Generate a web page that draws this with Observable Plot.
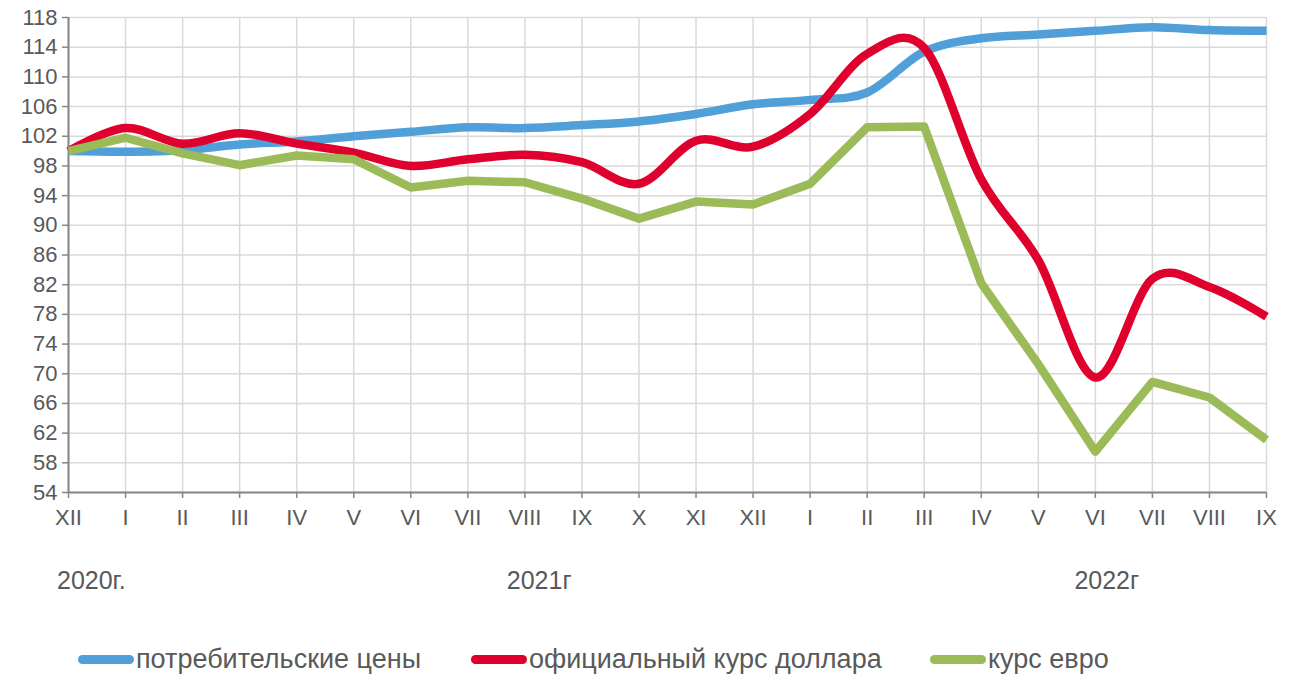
<!DOCTYPE html>
<html>
<head>
<meta charset="utf-8">
<script src="https://cdn.jsdelivr.net/npm/d3@7"></script>
<script src="https://cdn.jsdelivr.net/npm/@observablehq/plot@0.6"></script>
<style>
  body { margin: 0; background: #fff; font-family: "Liberation Sans", Arial, sans-serif; }
  #legend { position: relative; height: 54px; width: 1295px; color: #595959; font-size: 27px; }
  .item { position: absolute; top: 0; display: flex; align-items: center; height: 78px; }
  .sw { width: 56px; height: 9px; border-radius: 5px; margin-right: 2px; }
</style>
</head>
<body>
<div id="chart"></div>
<div id="legend"></div>
<script>
const months = ["XII","I","II","III","IV","V","VI","VII","VIII","IX","X","XI","XII","I","II","III","IV","V","VI","VII","VIII","IX"];
const cpi = [100, 99.9, 100.1, 100.9, 101.3, 102.0, 102.6, 103.2, 103.1, 103.5, 104.0, 105.0, 106.3, 106.9, 107.9, 113.4, 115.2, 115.7, 116.2, 116.7, 116.3, 116.2];
const usd = [100, 103.1, 101.0, 102.4, 101.0, 99.8, 98.0, 98.9, 99.5, 98.5, 95.6, 101.4, 100.6, 105.0, 113.1, 113.9, 96.2, 85.3, 69.5, 82.8, 81.7, 77.7];
const eur = [100, 101.8, 99.7, 98.1, 99.4, 98.9, 95.1, 96.0, 95.8, 93.6, 90.9, 93.2, 92.8, 95.6, 103.2, 103.3, 82.2, 71.3, 59.5, 68.9, 66.8, 61.1];
const seriesNames = ["потребительские цены", "официальный курс доллара", "курс евро"];
const seriesColors = ["#509fd8", "#e0002d", "#9bbb59"];
const yearLabels = ["2020г.", "2021г", "2022г"];
const yearAt = [0.4, 8.25, 18.2];
const yTicks = d3.range(54, 119, 4);

const idx = d3.range(months.length);
const toRows = (vals) => vals.map((v, i) => ({i, v}));

const chart = Plot.plot({
  width: 1295,
  height: 620,
  marginTop: 17,
  marginLeft: 68,
  marginRight: 29,
  marginBottom: 128,
  x: {domain: [0, months.length - 1]},
  y: {domain: [54, 118]},
  style: {fontFamily: "'Liberation Sans', Arial, sans-serif", fontSize: "22px", color: "#595959", background: "#fff"},
  marks: [
    Plot.gridX(idx, {stroke: "#d9d9d9", strokeOpacity: 1, strokeWidth: 1.5}),
    Plot.gridY(yTicks, {stroke: "#d9d9d9", strokeOpacity: 1, strokeWidth: 1.5}),
    Plot.axisY(yTicks, {tickSize: 6, tickPadding: 5, stroke: "#868686", fill: "#595959", strokeWidth: 1.5, fontSize: 22, label: null}),
    Plot.axisX(idx, {tickSize: 6, tickPadding: 11, tickFormat: (i) => months[i], stroke: "#868686", fill: "#595959", strokeWidth: 1.5, fontSize: 22, label: null}),
    Plot.ruleY([54], {stroke: "#868686", strokeWidth: 2}),
    Plot.ruleX([0], {stroke: "#868686", strokeWidth: 2}),
    Plot.line(toRows(cpi), {x: "i", y: "v", stroke: seriesColors[0], strokeWidth: 8.5, curve: "cardinal", strokeLinecap: "butt"}),
    Plot.line(toRows(usd), {x: "i", y: "v", stroke: seriesColors[1], strokeWidth: 8.5, curve: "cardinal", strokeLinecap: "butt"}),
    Plot.line(toRows(eur), {x: "i", y: "v", stroke: seriesColors[2], strokeWidth: 8.5, curve: "linear", strokeLinecap: "butt"}),
    Plot.text(yearLabels.map((t, k) => ({t, x: yearAt[k]})), {x: "x", y: () => 54, text: "t", dy: 88, fontSize: 25, fill: "#595959"})
  ]
});
document.getElementById("chart").appendChild(chart);

const legendLefts = [78, 471, 930];
const legend = document.getElementById("legend");
seriesNames.forEach((name, k) => {
  const item = document.createElement("div");
  item.className = "item";
  item.style.left = legendLefts[k] + "px";
  const sw = document.createElement("div");
  sw.className = "sw";
  sw.style.background = seriesColors[k];
  const tx = document.createElement("span");
  tx.textContent = name;
  item.appendChild(sw);
  item.appendChild(tx);
  legend.appendChild(item);
});
</script>
</body>
</html>
